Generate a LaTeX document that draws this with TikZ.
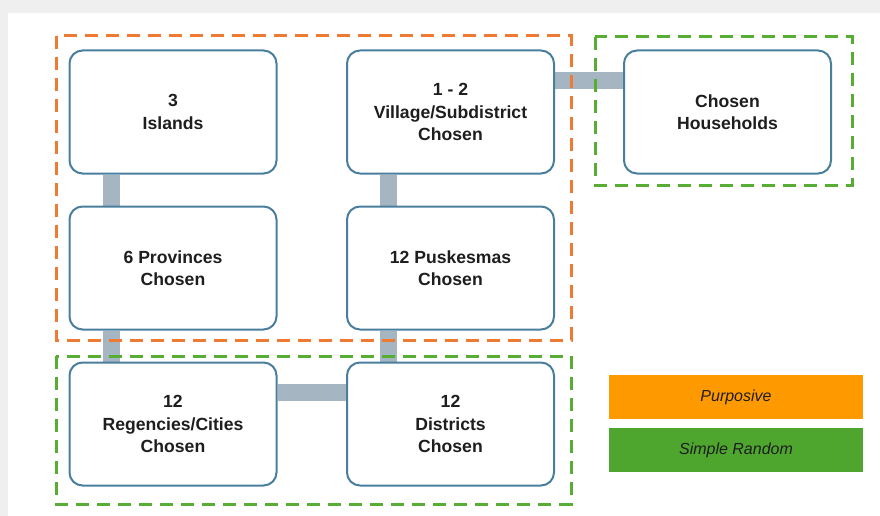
\documentclass[tikz,border=0pt]{standalone}
\usepackage{fontspec}
\setmainfont{Liberation Sans}
\setsansfont{Liberation Sans}
\begin{document}
\pgfdeclarelayer{background}
\pgfdeclarelayer{canvas}
\pgfsetlayers{canvas,background,main}
\definecolor{pagegray}{HTML}{EFEFEF}
\definecolor{boxline}{HTML}{4A7E9D}
\definecolor{barcol}{HTML}{A5B5C2}
\definecolor{dashorange}{HTML}{EE7A33}
\definecolor{dashgreen}{HTML}{58AE34}
\definecolor{legorange}{HTML}{FF9900}
\definecolor{leggreen}{HTML}{4EA62F}
\definecolor{txt}{HTML}{1E1E1E}
\begin{tikzpicture}[x=1pt,y=-1pt,
  stage/.style={draw=boxline, line width=2pt, fill=white, rounded corners=13pt,
    minimum width=207pt, minimum height=123pt, align=center, inner sep=0pt,
    text=txt, font=\fontsize{17.6}{22.5}\selectfont\bfseries},
  bar/.style={draw=barcol, line width=17pt},
  groupbox/.style={line width=3pt, dash pattern=on 13pt off 8pt},
  legend/.style={minimum width=254pt, minimum height=44pt, inner sep=0pt,
    text=txt, font=\fontsize{16}{19}\selectfont\itshape}
]
\useasboundingbox (0,0) rectangle (880,516);
\begin{pgfonlayer}{canvas}
\fill[pagegray] (0,0) rectangle (880,516);
\fill[white] (8,13) rectangle (880,516);
\end{pgfonlayer}

% sampling stages
\node[stage] (islands) at (173,112) {3\\Islands};
\node[stage] (village) at (450.5,112) {1 - 2\\Village/Subdistrict\\Chosen};
\node[stage] (house)   at (727.5,112) {Chosen\\Households};
\node[stage] (prov)    at (173,268) {6 Provinces\\Chosen};
\node[stage] (pusk)    at (450.5,268) {12 Puskesmas\\Chosen};
\node[stage] (regency) at (173,424) {12\\Regencies/Cities\\Chosen};
\node[stage] (district) at (450.5,424) {12\\Districts\\Chosen};

% links between stages
\begin{pgfonlayer}{background}
\draw[bar] ([xshift=-61.5pt]islands.south) -- ([xshift=-61.5pt]prov.north);
\draw[bar] ([xshift=-61.5pt]prov.south) -- ([xshift=-61.5pt]regency.north);
\draw[bar] ([xshift=-62pt]village.south) -- ([xshift=-62pt]pusk.north);
\draw[bar] ([xshift=-62pt]pusk.south) -- ([xshift=-62pt]district.north);
\draw[bar] ([yshift=31.5pt]regency.east) -- ([yshift=31.5pt]district.west);
\draw[bar] ([yshift=31.5pt]village.east) -- ([yshift=31.5pt]house.west);
\end{pgfonlayer}

% sampling method groups
\draw[groupbox, draw=dashorange] (56,36) rectangle (571,340);
\draw[groupbox, draw=dashgreen] (56,356) rectangle (571,504);
\draw[groupbox, draw=dashgreen] (595,37) rectangle (852,185);

% legend
\node[legend, fill=legorange] (purp) at (736,397) {Purposive};
\node[legend, fill=leggreen] (srs) at (736,450) {Simple Random};
\end{tikzpicture}
\end{document}
